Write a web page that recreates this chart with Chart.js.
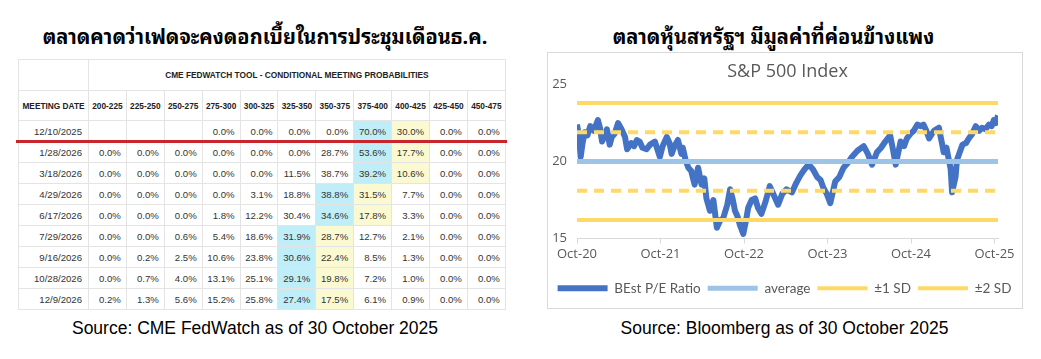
<!DOCTYPE html>
<html>
<head>
<meta charset="utf-8">
<script src="https://cdn.jsdelivr.net/npm/chart.js@4.4.1/dist/chart.umd.min.js"></script>
<style>
  html, body { margin:0; padding:0; background:#fff; }
  body { width:1041px; height:359px; position:relative; overflow:hidden; font-family:"Liberation Sans", Arial, sans-serif; }
  .title { position:absolute; top:19px; font-weight:bold; font-size:20px; color:#000; text-align:center; white-space:nowrap;
           font-family: Tahoma, "Leelawadee UI", "Noto Sans Thai Looped", Loma, Garuda, Norasi, "Noto Sans Thai", "Noto Sans", "DejaVu Sans", sans-serif; }
  #t1 { left:18px; width:494px; }
  #t2 { left:536px; width:475px; }
  .source { position:absolute; top:318px; font-size:17.5px; color:#000; text-align:center; white-space:nowrap; font-family:"Liberation Sans", Arial, sans-serif; }
  #s1 { left:14px; width:482px; }
  #s2 { left:547px; width:475px; }
  table.fw { position:absolute; left:18px; top:59px; border-collapse:collapse; table-layout:fixed; width:487px; color:#333; }
  table.fw td, table.fw th { border:1px solid #e4e4e4; padding:0; overflow:hidden; white-space:nowrap; }
  table.fw th { font-weight:bold; font-size:8.3px; color:#222; text-align:center; }
  table.fw tr.h1 th { height:30px; }
  table.fw tr.h2 th { height:29px; }
  table.fw td { height:20px; font-size:9.6px; text-align:right; padding-right:5px; }
  table.fw td.date { padding-right:6px; }
  td.blue { background:#bfeef8; }
  td.yel { background:#fbf9d2; }
  #redline { position:absolute; left:16px; top:140px; width:491px; height:3px; background:#c8262c; }
  #box { position:absolute; left:547px; top:52px; width:474px; height:255px; border:1px solid #d9d9d9; }
  #cwrap { position:absolute; left:548px; top:53px; width:473px; height:255px; }
</style>
</head>
<body>
<div class="title" id="t1">ตลาดคาดว่าเฟดจะคงดอกเบี้ยในการประชุมเดือนธ.ค.</div>
<div class="title" id="t2">ตลาดหุ้นสหรัฐฯ มีมูลค่าที่ค่อนข้างแพง</div>

<table class="fw" id="fwtable"></table>
<div id="redline"></div>

<div id="box"></div>
<div id="cwrap"><canvas id="pe" width="473" height="255"></canvas></div>

<div class="source" id="s1">Source: CME FedWatch as of 30 October 2025</div>
<div class="source" id="s2">Source: Bloomberg as of 30 October 2025</div>

<script>
// ---------- Left panel: CME FedWatch table data ----------
const tableTitle = 'CME FEDWATCH TOOL - CONDITIONAL MEETING PROBABILITIES';
const dateHeader = 'MEETING DATE';
const rateRanges = ['200-225','225-250','250-275','275-300','300-325','325-350','350-375','375-400','400-425','425-450','450-475'];
const meetingDates = ['12/10/2025','1/28/2026','3/18/2026','4/29/2026','6/17/2026','7/29/2026','9/16/2026','10/28/2026','12/9/2026'];
const row_12_10_2025 = [null, null, null, 0.0, 0.0, 0.0, 0.0, 70.0, 30.0, 0.0, 0.0];
const row_1_28_2026  = [0.0, 0.0, 0.0, 0.0, 0.0, 0.0, 28.7, 53.6, 17.7, 0.0, 0.0];
const row_3_18_2026  = [0.0, 0.0, 0.0, 0.0, 0.0, 11.5, 38.7, 39.2, 10.6, 0.0, 0.0];
const row_4_29_2026  = [0.0, 0.0, 0.0, 0.0, 3.1, 18.8, 38.8, 31.5, 7.7, 0.0, 0.0];
const row_6_17_2026  = [0.0, 0.0, 0.0, 1.8, 12.2, 30.4, 34.6, 17.8, 3.3, 0.0, 0.0];
const row_7_29_2026  = [0.0, 0.0, 0.6, 5.4, 18.6, 31.9, 28.7, 12.7, 2.1, 0.0, 0.0];
const row_9_16_2026  = [0.0, 0.2, 2.5, 10.6, 23.8, 30.6, 22.4, 8.5, 1.3, 0.0, 0.0];
const row_10_28_2026 = [0.0, 0.7, 4.0, 13.1, 25.1, 29.1, 19.8, 7.2, 1.0, 0.0, 0.0];
const row_12_9_2026  = [0.2, 1.3, 5.6, 15.2, 25.8, 27.4, 17.5, 6.1, 0.9, 0.0, 0.0];
const probabilityRows = [row_12_10_2025,row_1_28_2026,row_3_18_2026,row_4_29_2026,row_6_17_2026,row_7_29_2026,row_9_16_2026,row_10_28_2026,row_12_9_2026];
// highlighted column (index into rateRanges) per meeting
const blueCol   = [7, 7, 7, 6, 6, 5, 5, 5, 5];
const yellowCol = [8, 8, 8, 7, 7, 6, 6, 6, 6];

// ---------- Right panel: S&P 500 BEst P/E data ----------
const chartTitle = 'S&P 500 Index';
const xTickLabels = ['Oct-20','Oct-21','Oct-22','Oct-23','Oct-24','Oct-25'];
const legendNames = ['BEst P/E Ratio','average','±1 SD','±2 SD'];
// months since Oct 2020
const peMonths = [0,0.3,0.53,0.8,1.1,1.5,1.9,2.4,3.0,3.3,3.6,4.0,4.3,4.7,5.0,5.4,5.9,6.4,6.9,7.2,7.8,8.2,8.6,9.0,9.4,10.0,10.5,11.2,11.9,12.3,12.9,13.3,13.6,14.0,14.5,15.0,15.2,15.6,16.0,16.4,16.9,17.4,17.9,18.3,18.6,19.1,19.6,20.1,20.6,21.0,21.6,22.0,22.4,22.7,23.1,23.4,23.9,24.3,24.6,25.1,25.6,26.0,26.5,27.1,27.7,28.3,28.9,29.5,30.1,30.9,31.5,32.1,32.7,33.3,33.9,34.5,35.0,35.4,35.9,36.4,37.1,37.7,38.3,38.9,39.5,40.3,41.2,41.8,42.4,43.1,43.7,44.3,45.0,45.4,45.8,46.5,47.0,47.4,47.9,48.4,48.9,49.4,49.8,50.2,50.6,51.3,52.0,52.4,52.7,53.1,53.4,53.7,53.9,54.2,54.4,54.6,55.0,55.4,55.9,56.3,56.8,57.3,57.8,58.2,58.7,59.2,59.6,59.9,60.2,60.5];
const peValues = [22.4,21.6,20.3,21.2,21.9,21.7,22.3,22.0,22.7,22.2,21.3,21.7,22.1,21.1,21.6,21.8,22.5,22.1,21.6,20.8,21.2,21.0,21.4,21.3,20.9,20.8,21.1,21.3,20.3,21.0,21.6,21.2,20.5,21.0,21.4,20.5,20.9,20.1,19.6,19.4,18.5,19.6,18.5,18.9,17.6,16.8,17.5,15.7,16.2,16.3,17.2,18.2,17.5,16.8,16.4,15.9,15.3,16.2,17.0,17.5,17.6,17.0,16.6,17.4,18.4,17.8,17.2,17.9,18.2,18.0,18.6,19.1,19.5,19.8,19.5,19.0,18.8,18.3,17.9,17.3,18.7,19.0,19.6,19.9,20.3,20.7,21.0,20.5,19.8,20.6,20.9,21.3,21.7,20.8,19.8,21.3,21.0,21.5,21.8,22.0,22.4,22.3,22.4,22.0,21.5,22.0,22.2,21.3,20.6,20.9,20.2,19.5,18.0,18.6,19.0,20.1,20.6,21.1,21.2,21.5,21.8,22.3,22.0,22.2,22.1,22.4,22.3,22.7,22.5,23.0];
const averagePE = 20.0;
const plus1SD = 21.9, minus1SD = 18.1;
const plus2SD = 23.8, minus2SD = 16.2;
const xFirst = 0, xLast = 60.5;

// ---------- Build table ----------
(function buildTable(){
  const t = document.getElementById('fwtable');
  let html = '<colgroup><col style="width:70px">' + rateRanges.map(()=> '<col style="width:37.9px">').join('') + '</colgroup>';
  html += '<tr class="h1"><th></th><th colspan="' + rateRanges.length + '">' + tableTitle + '</th></tr>';
  html += '<tr class="h2"><th>' + dateHeader + '</th>' + rateRanges.map(r => '<th>' + r + '</th>').join('') + '</tr>';
  meetingDates.forEach((d, i) => {
    html += '<tr><td class="date">' + d + '</td>';
    probabilityRows[i].forEach((v, j) => {
      let cls = '';
      if (j === blueCol[i]) cls = 'blue'; else if (j === yellowCol[i]) cls = 'yel';
      html += '<td class="' + cls + '">' + (v === null ? '' : v.toFixed(1) + '%') + '</td>';
    });
    html += '</tr>';
  });
  t.innerHTML = html;
})();

// ---------- Build chart ----------
function flat(v){ return [{x:xFirst, y:v}, {x:xLast, y:v}]; }
function draw(){
  const fontFam = '"Open Sans", "Liberation Sans", sans-serif';
  const legFam = 'Lato, "Open Sans", sans-serif';
  const grey = '#595959';
  const yellow = '#ffd966';
  new Chart(document.getElementById('pe'), {
    type: 'line',
    data: {
      datasets: [
        { label: legendNames[0], data: peMonths.map((m,i)=>({x:m, y:peValues[i]})), borderColor:'#4472c4', backgroundColor:'#4472c4', borderWidth:6, pointRadius:0, borderJoinStyle:'round', order:10 },
        { label: legendNames[1], data: flat(averagePE), borderColor:'#9dc3e6', backgroundColor:'#9dc3e6', borderWidth:5, pointRadius:0, order:1 },
        { label: legendNames[2], data: flat(plus1SD), borderColor:yellow, backgroundColor:yellow, borderWidth:4, borderDash:[10,7], pointRadius:0, order:1 },
        { label: legendNames[2], data: flat(minus1SD), borderColor:yellow, backgroundColor:yellow, borderWidth:4, borderDash:[10,7], pointRadius:0, order:1 },
        { label: legendNames[3], data: flat(plus2SD), borderColor:yellow, backgroundColor:yellow, borderWidth:4, pointRadius:0, order:1 },
        { label: legendNames[3], data: flat(minus2SD), borderColor:yellow, backgroundColor:yellow, borderWidth:4, pointRadius:0, order:1 }
      ]
    },
    options: {
      responsive:false, animation:false, devicePixelRatio:1,
      layout: { padding: { left:0, right:0, top:0, bottom:3 } },
      scales: {
        x: {
          type:'linear', min:xFirst, max:xLast,
          afterBuildTicks: s => { s.ticks = xTickLabels.map((_,i)=>({value:i*12})); },
          afterFit: s => { s.height = 36; },
          ticks: { autoSkip:false, maxRotation:0, padding:3, color:grey, font:{family:fontFam, size:13},
                   callback: v => xTickLabels[Math.round(v/12)] },
          grid: { display:true, drawOnChartArea:false, drawTicks:true, tickLength:5, color:'#d9d9d9' },
          border: { display:true, color:'#d9d9d9', width:1 }
        },
        y: {
          min:15, max:25,
          afterFit: s => { s.width = 29; },
          ticks: { stepSize:5, padding:10, color:grey, font:{family:fontFam, size:13} },
          grid: { display:false, drawTicks:false },
          border: { display:false }
        },
        yRightSpace: {
          position:'right', display:true,
          afterFit: s => { s.width = 23; },
          ticks: { display:false },
          grid: { display:false, drawTicks:false },
          border: { display:false }
        }
      },
      plugins: {
        tooltip: { enabled:false },
        title: { display:true, fullSize:false, text:chartTitle, color:grey, font:{family:fontFam, size:18, weight:'normal'}, padding:{top:8, bottom:2} },
        legend: {
          position:'bottom',
          labels: {
            usePointStyle:true, pointStyle:'line', pointStyleWidth:50, padding:7,
            color:grey, font:{family:legFam, size:13.5},
            filter: item => item.datasetIndex !== 3 && item.datasetIndex !== 5,
            sort: (a,b) => a.datasetIndex - b.datasetIndex
          }
        }
      }
    }
  });
}
if (document.fonts && document.fonts.load) {
  Promise.all([document.fonts.load('17px "Open Sans"'), document.fonts.load('13px Lato')]).then(draw, draw);
} else { draw(); }
</script>
</body>
</html>
